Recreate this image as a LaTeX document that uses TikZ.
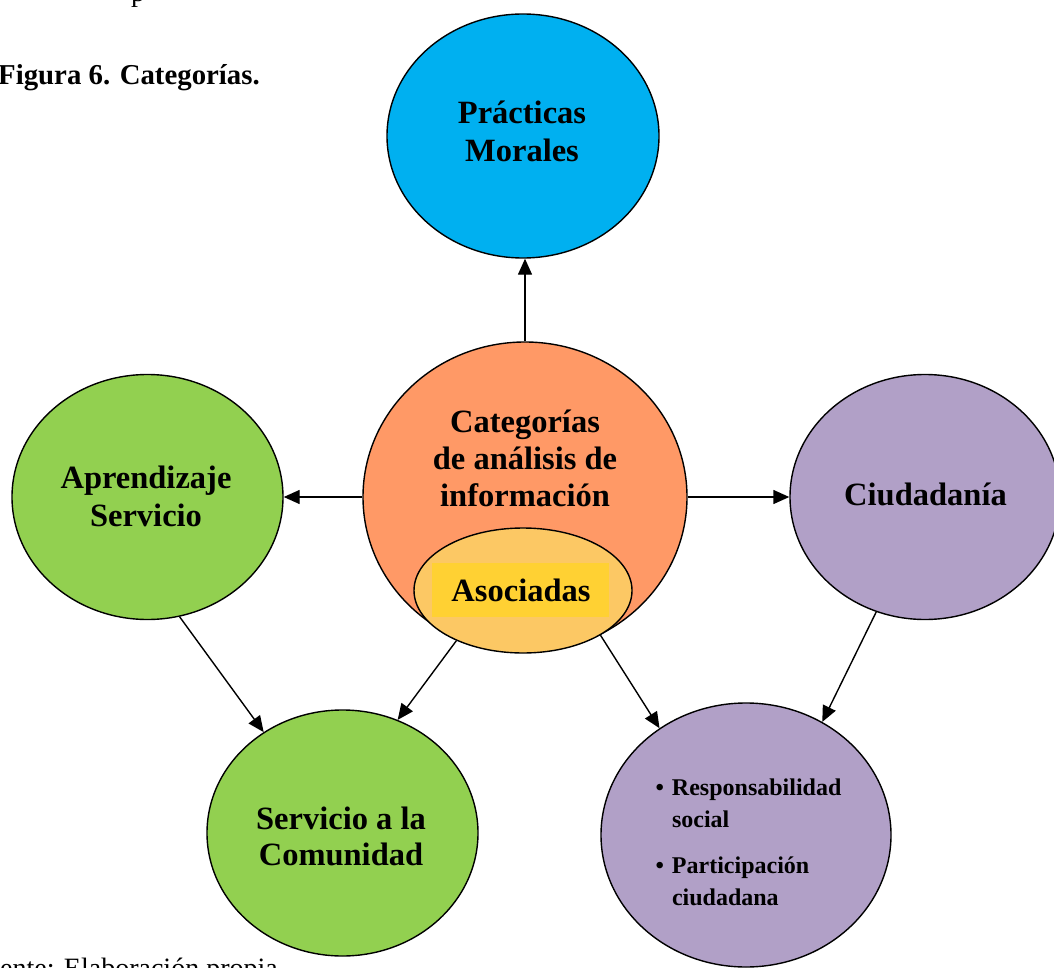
\documentclass[tikz,border=0pt]{standalone}
\usepackage{fontspec}
\setmainfont{Liberation Serif}
\usetikzlibrary{shapes.geometric,arrows.meta}
\definecolor{cblue}{HTML}{00B0F0}
\definecolor{corange}{HTML}{FF9966}
\definecolor{cgreen}{HTML}{92D050}
\definecolor{cpurple}{HTML}{B1A0C7}
\definecolor{casoc}{HTML}{FCC864}
\definecolor{crect}{HTML}{FFD133}
\begin{document}
\begin{tikzpicture}[x=1pt,y=-1pt,
  bub/.style={ellipse,draw=black,line width=1.4pt,inner sep=0pt},
  lbl/.style={font={\bfseries\fontsize{32.5}{38}\selectfont},align=center,inner sep=0pt},
  arr/.style={line width=1.4pt,-{Triangle[length=16pt,width=14pt]}}]
\useasboundingbox (0,0) rectangle (1054,968);
\begin{scope}
\clip (0,0) rectangle (1054,968);
% top fragments and captions
\node[anchor=base west,inner sep=0pt,font={\fontsize{28}{32}\selectfont}] (frag) at (131,2) {p};
\node[anchor=base west,inner sep=0pt,font={\bfseries\fontsize{28.8}{32}\selectfont}] (title) at (-2,85) {Figura 6. Categorías.};
\node[anchor=base west,inner sep=0pt,font={\fontsize{28}{32}\selectfont}] (source) at (0,977) {ente: Elaboración propia};
% bubbles
\node[bub,fill=cblue,minimum width=272pt,minimum height=244pt] (pm) at (523,136) {};
\node[bub,fill=corange,minimum width=324pt,minimum height=310pt] (cat) at (525,497) {};
\node[bub,fill=casoc,minimum width=218pt,minimum height=125pt] (aso) at (523,590.5) {};
\node[fill=crect,inner sep=0pt,minimum width=177pt,minimum height=54pt] (asorect) at (520.5,590) {};
\node[bub,fill=cgreen,minimum width=271pt,minimum height=245pt] (apr) at (147.5,497) {};
\node[bub,fill=cpurple,minimum width=270pt,minimum height=245pt] (ciu) at (925,497) {};
\node[bub,fill=cgreen,minimum width=271pt,minimum height=246pt] (ser) at (342.5,833) {};
\node[bub,fill=cpurple,minimum width=290pt,minimum height=264pt] (br) at (746,835) {};
% labels
\node[lbl] (pmt) at (522,131.5) {Prácticas\\Morales};
\node[lbl,font={\bfseries\fontsize{32.5}{37}\selectfont}] (catt) at (525,458.5) {Categorías\\de análisis de\\información};
\node[lbl] (asot) at (521,590.5) {Asociadas};
\node[lbl] (aprt) at (146,496) {Aprendizaje\\Servicio};
\node[lbl] (ciut) at (925.5,494) {Ciudadanía};
\node[lbl,font={\bfseries\fontsize{32.5}{36}\selectfont}] (sert) at (341,836) {Servicio a la\\Comunidad};
\node[inner sep=0pt,font={\bfseries\fontsize{24}{32}\selectfont}] (brt) at (748.5,843.6)
  {\begin{tabular}{@{}l@{\hspace{8pt}}l@{}}•&Responsabilidad\\&social\\[14pt]•&Participación\\&ciudadana\end{tabular}};
% connectors
\draw[arr] (cat.north) -- (cat.north |- pm.south);
\draw[arr] (cat.west) -- (apr.east);
\draw[arr] (cat.east) -- (ciu.west);
\draw[arr] (apr.-75) -- (ser.128);
\draw[arr] (aso.-143) -- (ser.64);
\draw[arr] (aso.-30) -- (br.129);
\draw[arr] (ciu.-113) -- (br.56);
\end{scope}
\end{tikzpicture}
\end{document}
